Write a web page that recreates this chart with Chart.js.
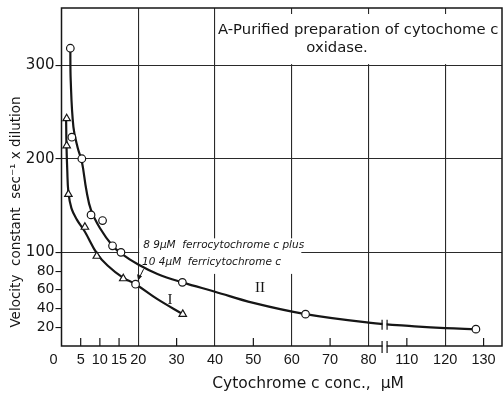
<!DOCTYPE html>
<html>
<head>
<meta charset="utf-8">
<script src="https://cdn.jsdelivr.net/npm/chart.js@4.4.1/dist/chart.umd.min.js"></script>
<style>
  html, body { margin: 0; padding: 0; background: #fff; }
  #wrap { width: 503px; height: 397px; }
</style>
</head>
<body>
<div id="wrap"><canvas id="chart"></canvas></div>
<script>
// curve II (circles) and curve I (triangles), µM vs velocity constant
const circleX = [2.3, 2.7, 5.3, 7.7, 10.7, 13.3, 15.5, 19.3, 31.5, 63.6, 128];
const circleY = [318, 223, 200, 140, 134, 107, 100, 66, 68, 34, 18];
const triX = [1.35, 1.35, 1.8, 6.1, 9.2, 16.1, 31.6];
const triY = [243, 214, 162, 127, 96, 72, 34];

// hand-drawn curves through the points
const curve1X = [1.2, 1.3, 1.5, 1.8, 2.6, 4, 6.1, 9.2, 12, 16, 19.3, 25, 31.6];
const curve1Y = [243, 214, 188, 164, 147, 135, 122, 99, 86, 73, 66, 50, 34];
const curve2X = [2.3, 2.4, 3.1, 4.2, 5.3, 6.5, 7.7, 10, 13.3, 15.5, 20, 25, 31.5, 40, 50, 63.6, 80, 112, 120, 128];
const curve2Y = [318, 284, 234, 212, 197, 166, 145, 126, 107, 99, 87, 77, 68, 58, 46, 34, 25, 21, 19, 18];

// x axis is broken between 85 and 105 µM
const breakGap = 20;
const xTickVals = [0, 5, 10, 15, 20, 30, 40, 50, 60, 70, 80, 110, 120, 130];
const xGridVals = [20, 40, 60, 80, 120];
const xMinorVals = [5, 10, 15, 30, 50, 70, 110, 130];
const yTickVals = [20, 40, 60, 80, 100, 200, 300];
const yGridVals = [100, 200, 300];

const brk = v => (v > 90 ? v - breakGap : v);
const pts = (xs, ys) => xs.map((v, i) => ({ x: brk(v), y: ys[i] }));

const ink = '#161616';
const FONT = '"DejaVu Sans", sans-serif';

const decor = {
  id: 'decor',
  beforeDatasetsDraw(chart) {
    const { ctx, chartArea: a, scales: { x, y } } = chart;
    ctx.save();
    ctx.fillStyle = '#fff';
    // blank cell for the heading
    const bx = x.getPixelForValue(40);
    const by = y.getPixelForValue(300);
    ctx.fillRect(bx + 1, a.top + 6, a.right - bx - 2, by - a.top - 7);
    // blank cell behind the mixture note
    const nx0 = x.getPixelForValue(20) + 1, nx1 = x.getPixelForValue(62.5);
    const ny0 = y.getPixelForValue(115), ny1 = y.getPixelForValue(77);
    ctx.fillRect(nx0, ny0, nx1 - nx0, ny1 - ny0);

    // minor ticks pointing into the plot
    ctx.strokeStyle = ink;
    ctx.lineWidth = 1.2;
    xMinorVals.forEach(v => {
      const px = x.getPixelForValue(brk(v));
      ctx.beginPath();
      ctx.moveTo(px, a.bottom);
      ctx.lineTo(px, a.bottom - 8);
      ctx.stroke();
    });
    // frame
    ctx.lineWidth = 1.5;
    ctx.strokeRect(a.left, a.top, a.right - a.left, a.bottom - a.top);
    ctx.restore();
  },
  afterDatasetsDraw(chart) {
    const { ctx, chartArea: a, scales: { x, y } } = chart;
    ctx.save();
    ctx.fillStyle = ink;
    ctx.strokeStyle = ink;

    // heading
    ctx.font = '14.8px ' + FONT;
    ctx.textBaseline = 'middle';
    ctx.textAlign = 'left';
    ctx.fillText('A-Purified preparation of cytochome c', x.getPixelForValue(40) + 3, 30);
    ctx.textAlign = 'center';
    ctx.fillText('oxidase.', 337, 48);

    // mixture note with arrow
    ctx.font = 'italic 10.5px ' + FONT;
    ctx.textAlign = 'left';
    ctx.fillText('8 9\u00b5M  ferrocytochrome c plus', x.getPixelForValue(21.3), y.getPixelForValue(108));
    ctx.fillText('10 4\u00b5M  ferricytochrome c', x.getPixelForValue(21.0), y.getPixelForValue(89));
    const tx = x.getPixelForValue(19.3), ty = y.getPixelForValue(66);
    ctx.lineWidth = 1;
    ctx.beginPath();
    ctx.moveTo(tx + 8, ty - 15);
    ctx.lineTo(tx + 3, ty - 5);
    ctx.stroke();
    ctx.beginPath();
    ctx.moveTo(tx + 2.5, ty - 4);
    ctx.lineTo(tx + 1.5, ty - 10);
    ctx.lineTo(tx + 6.5, ty - 8);
    ctx.closePath();
    ctx.fill();

    // curve numbers
    ctx.font = '15px "Liberation Serif", serif';
    ctx.textAlign = 'center';
    ctx.fillText('I', x.getPixelForValue(28.3), y.getPixelForValue(49));
    ctx.fillText('II', x.getPixelForValue(51.7), y.getPixelForValue(62));

    // break marks on curve II and on the axis
    const kx = x.getPixelForValue(84.2);
    const marks = [[y.getPixelForValue(22.6), 5], [a.bottom + 1, 6]];
    marks.forEach(([ky, h]) => {
      ctx.fillStyle = '#fff';
      ctx.fillRect(kx - 2, ky - 2, 4, 4);
      ctx.lineWidth = 1.2;
      ctx.beginPath();
      ctx.moveTo(kx - 2.5, ky - h); ctx.lineTo(kx - 2.5, ky + h);
      ctx.moveTo(kx + 2.5, ky - h); ctx.lineTo(kx + 2.5, ky + h);
      ctx.stroke();
    });

    // axis titles
    ctx.fillStyle = ink;
    ctx.font = '15.5px ' + FONT;
    ctx.textAlign = 'center';
    ctx.fillText('Cytochrome c conc.,  \u00b5M', 308, 384);
    ctx.translate(16, 212);
    ctx.rotate(-Math.PI / 2);
    ctx.font = '13.5px ' + FONT;
    ctx.fillText('Velocity  constant  sec\u207b\u00b9 x dilution', 0, 0);
    ctx.restore();
  }
};

new Chart(document.getElementById('chart'), {
  type: 'scatter',
  data: {
    datasets: [
      {
        data: pts(circleX, circleY),
        pointStyle: 'circle', pointRadius: 3.8, pointBorderWidth: 1.2,
        pointBackgroundColor: '#fff', pointBorderColor: ink
      },
      {
        data: pts(triX, triY),
        pointStyle: 'triangle', pointRadius: 4.3, pointBorderWidth: 1.2,
        pointBackgroundColor: '#fff', pointBorderColor: ink
      },
      {
        data: pts(curve1X, curve1Y), showLine: true, pointRadius: 0,
        borderColor: ink, borderWidth: 2.2, tension: 0.4
      },
      {
        data: pts(curve2X, curve2Y), showLine: true, pointRadius: 0,
        borderColor: ink, borderWidth: 2.2, tension: 0.4
      }
    ]
  },
  options: {
    responsive: true,
    maintainAspectRatio: false,
    animation: false,
    layout: { autoPadding: false, padding: { top: 8, right: 1, left: 0, bottom: 0 } },
    plugins: { legend: { display: false }, tooltip: { enabled: false } },
    scales: {
      x: {
        type: 'linear', min: 0, max: 114.8,
        afterBuildTicks: s => { s.ticks = xTickVals.map(v => ({ value: brk(v) })); },
        afterFit: s => { s.height = 51; s.paddingLeft = 0; s.paddingRight = 0; },
        grid: {
          drawTicks: false,
          lineWidth: 1.1,
          color: c => (c.tick && xGridVals.map(brk).includes(c.tick.value) ? '#2a2a2a' : 'rgba(0,0,0,0)')
        },
        border: { display: false },
        ticks: {
          autoSkip: false, maxRotation: 0, padding: 5, color: ink,
          font: { family: '"Liberation Sans", sans-serif', size: 14.5 },
          callback: (v, i) => (i === 0 ? '0    ' : String(xTickVals[i]))
        }
      },
      y: {
        type: 'linear', min: 0, max: 361,
        afterBuildTicks: s => { s.ticks = yTickVals.map(v => ({ value: v })); },
        afterFit: s => { s.width = 61.5; s.paddingTop = 0; s.paddingBottom = 0; },
        grid: {
          drawTicks: true, tickLength: 6, lineWidth: 1.1,
          tickColor: ink,
          color: c => (c.tick && yGridVals.includes(c.tick.value) ? '#2a2a2a' : 'rgba(0,0,0,0)')
        },
        border: { display: false },
        ticks: {
          padding: 1, color: ink,
          font: c => ({ family: FONT, size: c.tick && c.tick.value >= 100 ? 15 : 14 })
        }
      }
    }
  },
  plugins: [decor]
});
</script>
</body>
</html>
